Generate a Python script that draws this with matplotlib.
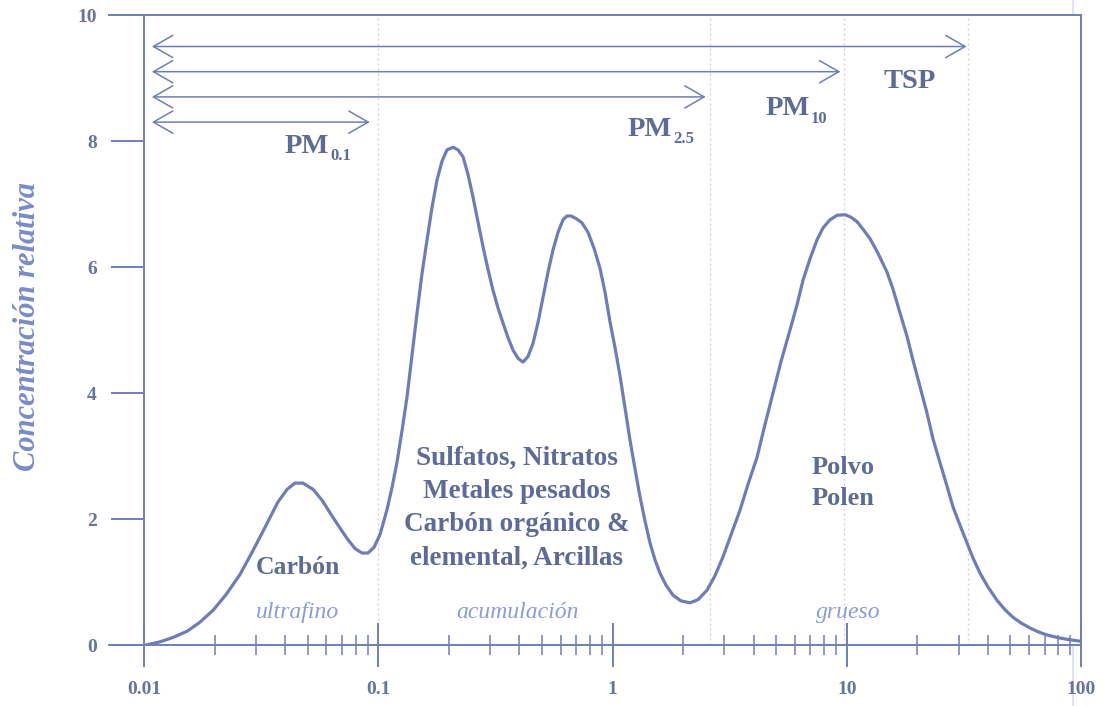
import matplotlib
matplotlib.use("Agg")
import matplotlib.pyplot as plt
from matplotlib.patches import FancyArrowPatch
from matplotlib.lines import Line2D
from matplotlib.ticker import FixedLocator, FixedFormatter, LogLocator, NullFormatter

# Particle size distribution: diameter (µm) vs relative concentration
diameter = [0.0102, 0.0117, 0.0133, 0.0153, 0.0173, 0.0197, 0.0224, 0.0257, 0.0292,
            0.0332, 0.0373, 0.0408, 0.0441, 0.0477, 0.0527, 0.0575, 0.0622, 0.0680,
            0.0736, 0.0796, 0.0852, 0.0904, 0.0959, 0.1017, 0.109, 0.1145, 0.1202,
            0.1263, 0.1327, 0.1394, 0.1464, 0.1538, 0.1615, 0.1697, 0.1782, 0.1872,
            0.1966, 0.2086, 0.2190, 0.2301, 0.2416, 0.2538, 0.2666, 0.2801, 0.2942,
            0.3090, 0.3245, 0.3409, 0.3581, 0.3761, 0.3951, 0.4150, 0.4359, 0.4579,
            0.4809, 0.5051, 0.5306, 0.5572, 0.5853, 0.6149, 0.6395, 0.6651, 0.6987,
            0.7412, 0.7862, 0.8337, 0.8844, 0.929, 0.9757, 1.025, 1.076, 1.131,
            1.188, 1.247, 1.311, 1.376, 1.446, 1.519, 1.595, 1.692, 1.813, 1.961,
            2.142, 2.317, 2.532, 2.739, 2.963, 3.206, 3.502, 3.788, 4.140, 4.477,
            4.844, 5.241, 5.724, 6.133, 6.505, 6.968, 7.465, 7.918, 8.483, 9.087,
            9.828, 10.43, 11.06, 11.73, 12.57, 13.59, 14.85, 15.75, 16.88, 18.08,
            19.18, 20.55, 22.01, 23.35, 25.02, 26.80, 28.43, 30.45, 32.62, 34.59,
            37.06, 40.09, 43.79, 47.38, 51.25, 55.45, 60.58, 65.53, 71.59, 79.01,
            87.13, 99.0]
concentration = [0.0, 0.05, 0.12, 0.22, 0.36, 0.55, 0.8, 1.12, 1.5,
                 1.9, 2.27, 2.47, 2.57, 2.57, 2.47, 2.3, 2.1, 1.88,
                 1.69, 1.53, 1.46, 1.46, 1.55, 1.75, 2.15, 2.5, 2.9,
                 3.4, 3.94, 4.6, 5.27, 5.9, 6.43, 6.95, 7.38, 7.68,
                 7.86, 7.9, 7.86, 7.75, 7.47, 7.11, 6.72, 6.32, 5.96,
                 5.63, 5.35, 5.11, 4.88, 4.68, 4.55, 4.49, 4.58, 4.79,
                 5.12, 5.52, 5.92, 6.27, 6.55, 6.75, 6.81, 6.81, 6.77,
                 6.7, 6.55, 6.3, 5.98, 5.6, 5.13, 4.72, 4.28, 3.76,
                 3.25, 2.8, 2.35, 1.97, 1.62, 1.35, 1.14, 0.95, 0.79, 0.7,
                 0.67, 0.72, 0.87, 1.1, 1.4, 1.75, 2.14, 2.55, 2.98, 3.5,
                 4.0, 4.5, 5.0, 5.4, 5.79, 6.13, 6.43, 6.62, 6.75, 6.82,
                 6.83, 6.79, 6.72, 6.6, 6.45, 6.22, 5.92, 5.65, 5.27, 4.9,
                 4.52, 4.1, 3.68, 3.27, 2.89, 2.52, 2.19, 1.9, 1.62, 1.38,
                 1.14, 0.92, 0.71, 0.56, 0.44, 0.35, 0.27, 0.21, 0.16, 0.12,
                 0.09, 0.06]

# Size fractions: name, subscript, lower / upper diameter (µm), arrow level
fraction_names = ["PM", "PM", "PM", "TSP"]
fraction_subs = ["0.1", "2.5", "10", ""]
fraction_lower = [0.0108, 0.0108, 0.0108, 0.0108]
fraction_upper = [0.092, 2.5, 9.4, 32.5]
fraction_level = [8.3, 8.7, 9.1, 9.5]

# Cut diameters marked by dotted guides (µm)
cut_diameters = [0.1, 2.6, 9.7, 33.0]

# Modes of the distribution and their typical components
mode_names = ["ultrafino", "acumulación", "grueso"]
component_texts = ["Carbón",
                   "Sulfatos, Nitratos\nMetales pesados\nCarbón orgánico &\nelemental, Arcillas",
                   "Polvo\nPolen"]

xtick_values = [0.01, 0.1, 1, 10, 100]
xtick_labels = ["0.01", "0.1", "1", "10", "100"]
ytick_values = [0, 2, 4, 6, 8, 10]
ytick_labels = ["0", "2", "4", "6", "8", "10"]

# ---- styling ----
SERIF = "Liberation Serif"
plt.rcParams["font.family"] = [SERIF, "DejaVu Serif"]

axis_color = "#6f7fb3"
curve_color = "#6e7eb4"
text_color = "#5d6b95"
tick_text_color = "#66739a"
mode_color = "#8d9bd0"
ylabel_color = "#7b8bc4"
grid_color = "#c5cde3"

fig = plt.figure(figsize=(11.05, 7.06), dpi=100)
ax = fig.add_axes([144 / 1105, 61 / 706, 937 / 1105, 630 / 706])
ax.set_xscale("log")
ax.set_xlim(0.01, 100)
ax.set_ylim(0, 10)

for side in ["left", "right", "top", "bottom"]:
    ax.spines[side].set_color(axis_color)
    ax.spines[side].set_linewidth(1.4)

# top frame line and x axis line reach a little left of the y axis
ext = -36 / 937
ax.plot([ext, 0], [1, 1], transform=ax.transAxes, color=axis_color, lw=1.4,
        clip_on=False, solid_capstyle="butt")
ax.plot([ext, 0], [0, 0], transform=ax.transAxes, color=axis_color, lw=1.4,
        clip_on=False, solid_capstyle="butt")

ax.xaxis.set_major_locator(FixedLocator(xtick_values))
ax.xaxis.set_major_formatter(FixedFormatter(xtick_labels))
ax.xaxis.set_minor_locator(LogLocator(base=10, subs=[2, 3, 4, 5, 6, 7, 8, 9]))
ax.xaxis.set_minor_formatter(NullFormatter())
ax.yaxis.set_major_locator(FixedLocator(ytick_values))
ax.yaxis.set_major_formatter(FixedFormatter(ytick_labels))

ax.tick_params(axis="x", which="major", direction="inout", length=32, width=1.4,
               color=axis_color, pad=10, labelsize=14, labelcolor=tick_text_color)
ax.tick_params(axis="x", which="minor", direction="inout", length=15, width=1.1,
               color=axis_color)
ax.tick_params(axis="y", which="major", direction="out", length=24, width=1.4,
               color=axis_color, pad=10, labelsize=14, labelcolor=tick_text_color)
for lab in ax.get_xticklabels() + ax.get_yticklabels():
    lab.set_fontweight("bold")

# dotted guides at the cut diameters
for xc in cut_diameters:
    ax.axvline(xc, color=grid_color, lw=0.9, ls=(0, (1.5, 2.5)), zorder=0)

# distribution curve
ax.plot(diameter, concentration, color=curve_color, lw=2.3,
        solid_joinstyle="round", solid_capstyle="round", zorder=3)

# size fraction arrows
for lo, hi, lev in zip(fraction_lower, fraction_upper, fraction_level):
    arr = FancyArrowPatch(posA=(lo, lev), posB=(hi, lev),
                          arrowstyle="<->,head_length=14,head_width=8",
                          mutation_scale=1, shrinkA=0, shrinkB=0,
                          lw=1.1, color=axis_color, zorder=2)
    ax.add_patch(arr)

fraction_label_pos = [(0.040, 7.81), (1.164, 8.08), (4.52, 8.41), (14.3, 8.84)]
for name, sub, (tx, ty) in zip(fraction_names, fraction_subs, fraction_label_pos):
    main = ax.text(tx, ty, name, fontsize=20.5, fontweight="bold", color=text_color,
                   ha="left", va="baseline")
    if sub:
        ax.annotate(sub, xy=(1, 0), xycoords=main, xytext=(0.5, -1.0),
                    textcoords="offset points", fontsize=12, fontweight="bold",
                    color=text_color, ha="left", va="baseline")

# components of each mode (y = baseline of the last line)
ax.text(0.0454, 1.13, component_texts[0], fontsize=18.5, fontweight="bold",
        color=text_color, ha="center", va="baseline")
ax.text(0.391, 1.27, component_texts[1], fontsize=19.5, fontweight="bold",
        color=text_color, ha="center", va="baseline", multialignment="center",
        linespacing=1.45)
ax.text(7.11, 2.22, component_texts[2], fontsize=19, fontweight="bold",
        color=text_color, ha="left", va="baseline", multialignment="left",
        linespacing=1.45)

# mode names
mode_pos = [0.045, 0.395, 10.2]
for name, mx in zip(mode_names, mode_pos):
    ax.text(mx, 0.43, name, fontsize=17, style="italic", color=mode_color,
            ha="center", va="baseline")

fig.text(28 / 1105, 1 - 326 / 706, "Concentración relativa", rotation=90,
         fontsize=22, fontweight="bold", style="italic", color=ylabel_color,
         ha="center", va="center")

# faint vertical rule near the right edge
fig.add_artist(Line2D([1073 / 1105, 1073 / 1105], [0, 1], transform=fig.transFigure,
                      color="#d6e2ef", lw=1.2, zorder=0))

fig.savefig("out.png", dpi=100, facecolor="white")
